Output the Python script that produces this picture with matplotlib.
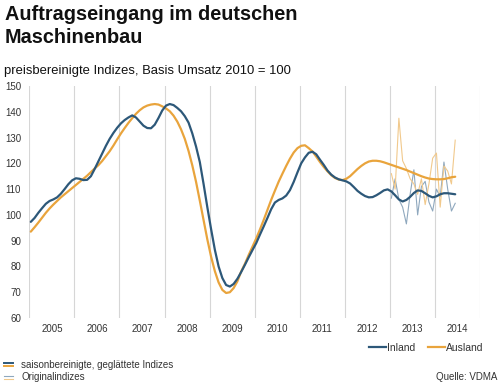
import matplotlib
matplotlib.use('Agg')
import matplotlib.pyplot as plt
from matplotlib.lines import Line2D

plt.rcParams['font.family'] = ['Liberation Sans', 'DejaVu Sans']

# monthly values, Jan 2005 .. Jun 2014 (smoothed, seasonally adjusted)
inland = [
    97.3, 98.8, 100.8, 102.6, 104.3, 105.4, 106.0, 106.8, 108.2, 110.0, 111.9, 113.4,
    114.2, 114.0, 113.5, 113.6, 115.0, 117.8, 120.8, 123.8, 126.8, 129.5, 131.8, 133.8,
    135.5, 136.8, 137.8, 138.6, 137.8, 136.2, 134.6, 133.7, 133.6, 135.0, 137.6, 140.5,
    142.4, 143.0, 142.6, 141.5, 140.2, 138.3, 135.8, 131.6, 126.5, 120.5, 112.0, 103.0,
    94.5, 86.5, 80.0, 75.5, 72.8, 72.2, 73.2, 75.2, 77.8, 80.6, 83.5, 86.3,
    89.0, 92.3, 95.5, 98.8, 102.2, 104.8, 105.8, 106.4, 107.5, 109.6, 112.8, 116.5,
    120.0, 122.3, 124.1, 124.5, 123.5, 121.4, 119.4, 117.2, 115.6, 114.5, 113.8, 113.4,
    113.0, 112.2, 110.8, 109.3, 108.2, 107.3, 106.8, 106.9, 107.6, 108.5, 109.5, 109.9,
    109.1, 107.6, 106.0, 105.2, 105.8, 107.0, 108.5, 109.5, 109.3, 108.4, 107.4, 106.8,
    107.2, 108.0, 108.4, 108.4, 108.2, 108.0,
]
ausland = [
    93.5, 95.2, 97.0, 98.9, 100.8, 102.5, 104.0, 105.4, 106.8, 108.0, 109.2, 110.4,
    111.6, 112.8, 114.0, 115.2, 116.6, 118.0, 119.3, 120.9, 122.8, 124.7, 126.9, 129.3,
    131.6, 133.7, 135.7, 137.5, 139.2, 140.6, 141.7, 142.4, 142.8, 143.0, 142.8, 142.1,
    141.3, 140.2, 138.5, 136.2, 133.2, 129.5, 124.8, 119.2, 112.8, 105.5, 98.0, 90.5,
    83.8, 78.2, 73.8, 70.9, 69.7, 70.0, 71.6, 74.2, 78.0, 81.0, 84.4, 87.6,
    90.8, 94.3, 98.0, 101.9, 105.8, 109.4, 112.9, 116.0, 119.0, 121.8, 124.2, 125.9,
    126.8, 127.0, 125.9, 124.6, 122.6, 120.5, 118.6, 116.9, 115.4, 114.3, 113.7, 113.5,
    114.0, 115.0, 116.4, 117.8, 119.0, 120.0, 120.7, 121.0, 121.0, 120.8, 120.4, 119.9,
    119.4, 118.9, 118.4, 117.9, 117.4, 116.8, 116.2, 115.6, 115.0, 114.5, 114.1, 113.9,
    113.8, 113.8, 113.9, 114.2, 114.6, 114.8,
]
# original indices, Jan 2013 .. Jun 2014
inland_orig = [106.5, 114.0, 106.0, 103.0, 96.5, 108.0, 117.5, 100.0, 111.0,
               113.0, 105.0, 101.5, 110.0, 107.0, 120.5, 110.0, 101.5, 104.5]
ausland_orig = [116.0, 110.0, 137.5, 121.0, 118.0, 114.0, 112.0, 108.0, 114.0,
                104.0, 112.0, 122.0, 124.0, 103.0, 119.0, 117.0, 112.0, 129.0]

years = list(range(2005, 2015))
yticks = [60, 70, 80, 90, 100, 110, 120, 130, 140, 150]

blue = '#2d5879'
orange = '#e9a43c'
blue_light = '#8fa8be'
orange_light = '#f1c98c'
grid_c = '#d6d6d6'
text_c = '#333333'

x_all = [2005 + (m + 0.4) / 12 for m in range(len(inland))]
x_orig = x_all[-len(inland_orig):]

fig = plt.figure(figsize=(5.0, 3.83), dpi=100)
ax = fig.add_axes([29.3 / 500, 1 - 318 / 383, (480 - 29.3) / 500, (318 - 86) / 383])

ax.plot(x_orig, inland_orig, color=blue_light, linewidth=0.8)
ax.plot(x_orig, ausland_orig, color=orange_light, linewidth=0.8)
ax.plot(x_all, ausland, color=orange, linewidth=1.6, solid_capstyle='round')
ax.plot(x_all, inland, color=blue, linewidth=1.6, solid_capstyle='round')

ax.set_xlim(2005, 2015)
ax.set_ylim(60, 150)
ax.set_xticks(list(range(2005, 2016)))
ax.set_xticklabels([])
ax.set_xticks([y + 0.5 for y in years], minor=True)
ax.set_xticklabels([str(y) for y in years], minor=True)
ax.set_yticks(yticks)
ax.tick_params(axis='both', which='both', length=0, labelsize=7, labelcolor=text_c)
ax.tick_params(axis='y', pad=6)
ax.tick_params(axis='x', which='minor', pad=4)
ax.xaxis.grid(True, which='major', color=grid_c, linewidth=0.8)
for s in ax.spines.values():
    s.set_visible(False)

fig.text(5 / 500, 1 - 20 / 383, 'Auftragseingang im deutschen', fontsize=14.3,
         fontweight='bold', va='baseline', color='#111111')
fig.text(5 / 500, 1 - 43 / 383, 'Maschinenbau', fontsize=14.3,
         fontweight='bold', va='baseline', color='#111111')
fig.text(4 / 500, 1 - 74 / 383, 'preisbereinigte Indizes, Basis Umsatz 2010 = 100',
         fontsize=9.4, va='baseline', color='#111111')

handles = [Line2D([], [], color=blue, linewidth=1.6),
           Line2D([], [], color=orange, linewidth=1.6)]
fig.legend(handles, ['Inland', 'Ausland'], loc='center right',
           bbox_to_anchor=(0.985, 1 - 348 / 383), ncol=2, frameon=False,
           fontsize=7.5, handlelength=1.6, handletextpad=0.1, columnspacing=1.2,
           labelcolor=text_c)

# bottom-left key
fig.add_artist(Line2D([4 / 500, 13 / 500], [1 - 363 / 383] * 2, color=blue, linewidth=1.4))
fig.add_artist(Line2D([4 / 500, 13 / 500], [1 - 366 / 383] * 2, color=orange, linewidth=1.4))
fig.add_artist(Line2D([4 / 500, 13 / 500], [1 - 376 / 383] * 2, color=blue_light, linewidth=0.8))
fig.add_artist(Line2D([4 / 500, 13 / 500], [1 - 379 / 383] * 2, color=orange_light, linewidth=0.8))
fig.text(21 / 500, 1 - 364.5 / 383, 'saisonbereinigte, geglättete Indizes', fontsize=7,
         va='center', color=text_c)
fig.text(21 / 500, 1 - 377.5 / 383, 'Originalindizes', fontsize=7, va='center', color=text_c)
fig.text(497 / 500, 1 - 377.5 / 383, 'Quelle: VDMA', fontsize=7, va='center',
         ha='right', color=text_c)

fig.savefig('out.png', dpi=100)
